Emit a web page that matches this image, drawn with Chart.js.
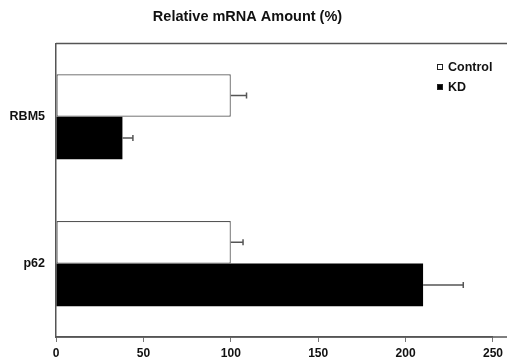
<!DOCTYPE html>
<html lang="en">
<head>
  <meta charset="UTF-8">
  <title>Relative mRNA Amount</title>
  <script src="https://cdn.jsdelivr.net/npm/chart.js"></script>
  <style>
    body { margin: 0; background: #fff; }
    #wrap { width: 507px; height: 360px; }
  </style>
</head>
<body>
  <div id="wrap"><canvas id="mrnaChart"></canvas></div>

  <script>
    const categories = ['RBM5', 'p62'];
    const seriesNames = ['Control', 'KD'];
    const controlValues = [100, 100];
    const kdValues = [38, 210];
    const controlErr = [9, 7];
    const kdErr = [6, 23];
    const xTicks = [0, 50, 100, 150, 200, 250];

    const FONT = 'Liberation Sans, Arial, Helvetica, sans-serif';

    // error bars (right side only) drawn through the scales
    const errorBars = {
      id: 'errorBars',
      afterDatasetsDraw(chart) {
        const ctx = chart.ctx;
        const x = chart.scales.x;
        chart.data.datasets.forEach((ds, i) => {
          const meta = chart.getDatasetMeta(i);
          meta.data.forEach((bar, j) => {
            const v = ds.data[j];
            const e = ds.errors[j];
            const x0 = x.getPixelForValue(v);
            const x1 = x.getPixelForValue(v + e);
            ctx.save();
            ctx.strokeStyle = '#555';
            ctx.lineWidth = 1.5;
            ctx.beginPath();
            ctx.moveTo(x0, bar.y);
            ctx.lineTo(x1, bar.y);
            ctx.moveTo(x1, bar.y - 3);
            ctx.lineTo(x1, bar.y + 3);
            ctx.stroke();
            ctx.restore();
          });
        });
      }
    };

    // top frame line + extended bottom line + in-plot legend
    const frameAndLegend = {
      id: 'frameAndLegend',
      afterDraw(chart) {
        const ctx = chart.ctx;
        const a = chart.chartArea;
        ctx.save();
        ctx.strokeStyle = '#555';
        ctx.lineWidth = 1.5;
        ctx.beginPath();
        ctx.moveTo(a.left, a.top);
        ctx.lineTo(chart.width, a.top);
        ctx.moveTo(a.left, a.bottom);
        ctx.lineTo(chart.width, a.bottom);
        ctx.stroke();

        ctx.font = 'bold 12.5px ' + FONT;
        ctx.textBaseline = 'middle';
        chart.data.datasets.forEach((ds, i) => {
          const y = 67 + i * 20;
          ctx.fillStyle = ds.backgroundColor;
          ctx.fillRect(437, y - 3, 6, 6);
          ctx.strokeStyle = '#222';
          ctx.lineWidth = 1;
          ctx.strokeRect(437.5, y - 2.5, 5, 5);
          ctx.fillStyle = '#111';
          ctx.fillText(ds.label, 448, y + 1);
        });
        ctx.restore();
      }
    };

    new Chart(document.getElementById('mrnaChart'), {
      type: 'bar',
      data: {
        labels: categories,
        datasets: [
          {
            label: seriesNames[0],
            data: controlValues,
            errors: controlErr,
            backgroundColor: '#ffffff',
            borderColor: '#555',
            borderWidth: 1.2,
            borderSkipped: false
          },
          {
            label: seriesNames[1],
            data: kdValues,
            errors: kdErr,
            backgroundColor: '#000000',
            borderColor: '#000000',
            borderWidth: 0
          }
        ]
      },
      options: {
        indexAxis: 'y',
        responsive: true,
        maintainAspectRatio: false,
        animation: false,
        barPercentage: 1,
        categoryPercentage: 0.58,
        layout: { padding: { left: 0, right: 12, top: 0, bottom: 0 } },
        plugins: {
          legend: { display: false },
          tooltip: { enabled: false },
          title: {
            display: true,
            text: 'Relative mRNA Amount (%)',
            color: '#111',
            font: { family: FONT, size: 14.5, weight: 'bold' },
            padding: { top: 8, bottom: 18 }
          }
        },
        scales: {
          x: {
            min: 0,
            max: 250,
            afterBuildTicks: s => { s.ticks = xTicks.map(v => ({ value: v })); },
            afterFit: s => { s.height = 23; },
            grid: {
              drawOnChartArea: false,
              tickLength: 5,
              tickColor: '#777',
              lineWidth: 1
            },
            border: { display: true, color: '#555', width: 1.5 },
            ticks: {
              padding: 4,
              color: '#111',
              maxRotation: 0,
              font: { family: FONT, size: 12, weight: 'bold' }
            }
          },
          y: {
            afterFit: s => { s.width = 56; },
            grid: { display: false },
            border: { display: true, color: '#555', width: 1.5 },
            ticks: {
              padding: 3,
              color: '#111',
              font: { family: FONT, size: 12.5, weight: 'bold' }
            }
          }
        }
      },
      plugins: [errorBars, frameAndLegend]
    });
  </script>
</body>
</html>
